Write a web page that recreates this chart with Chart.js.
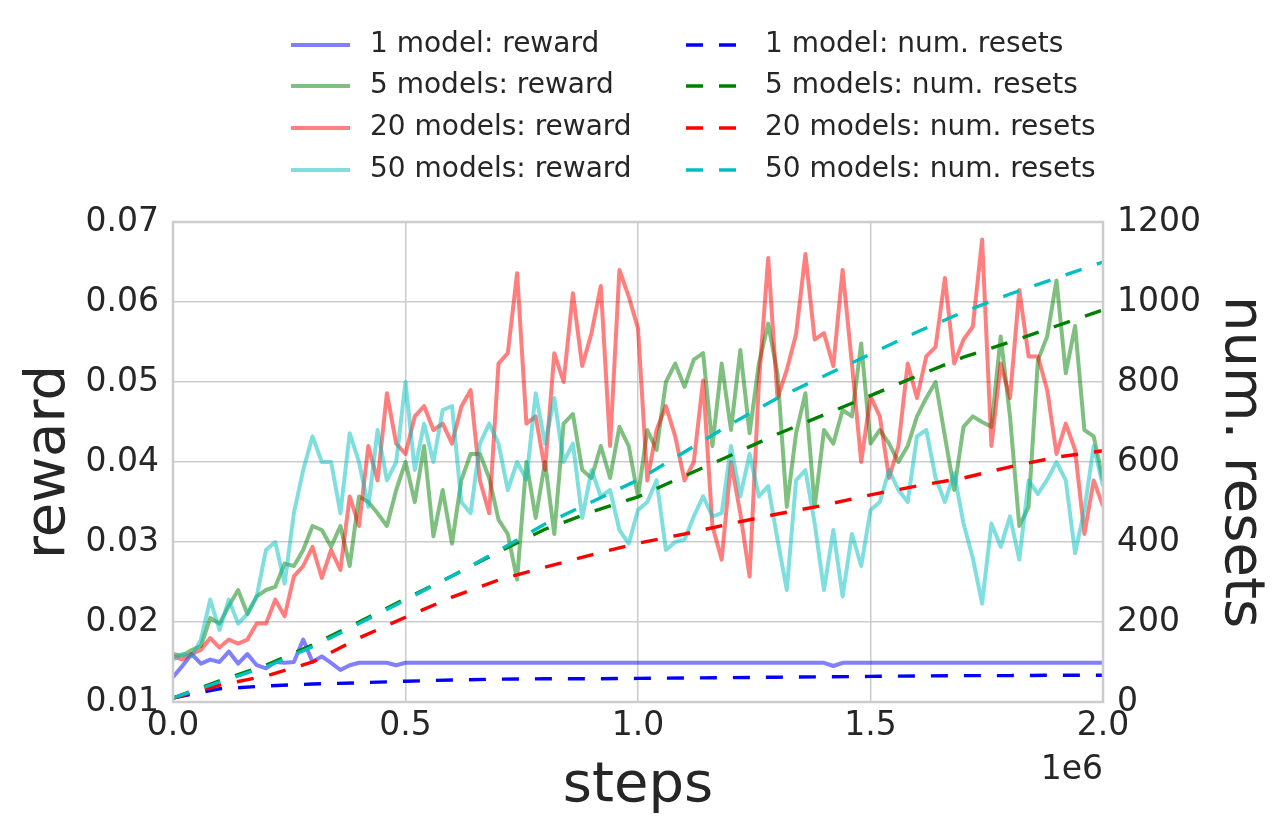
<!DOCTYPE html>
<html>
<head>
<meta charset="utf-8">
<script src="https://cdn.jsdelivr.net/npm/chart.js@4.4.1/dist/chart.umd.min.js"></script>
<style>
  html, body { margin: 0; padding: 0; background: #fff; }
  canvas { display: block; }
</style>
</head>
<body>
<canvas id="chart" width="1287" height="834"></canvas>
<script>
// training steps, in units of 1e6
const steps = [
  0.00, 0.02, 0.04, 0.06, 0.08, 0.10, 0.12, 0.14, 0.16, 0.18,
  0.20, 0.22, 0.24, 0.26, 0.28, 0.30, 0.32, 0.34, 0.36, 0.38,
  0.40, 0.42, 0.44, 0.46, 0.48, 0.50, 0.52, 0.54, 0.56, 0.58,
  0.60, 0.62, 0.64, 0.66, 0.68, 0.70, 0.72, 0.74, 0.76, 0.78,
  0.80, 0.82, 0.84, 0.86, 0.88, 0.90, 0.92, 0.94, 0.96, 0.98,
  1.00, 1.02, 1.04, 1.06, 1.08, 1.10, 1.12, 1.14, 1.16, 1.18,
  1.20, 1.22, 1.24, 1.26, 1.28, 1.30, 1.32, 1.34, 1.36, 1.38,
  1.40, 1.42, 1.44, 1.46, 1.48, 1.50, 1.52, 1.54, 1.56, 1.58,
  1.60, 1.62, 1.64, 1.66, 1.68, 1.70, 1.72, 1.74, 1.76, 1.78,
  1.80, 1.82, 1.84, 1.86, 1.88, 1.90, 1.92, 1.94, 1.96, 1.98,
  2.00
];

const reward1 = [
  0.0131, 0.0145, 0.0160, 0.0148, 0.0153, 0.0150, 0.0163, 0.0148, 0.0160, 0.0146,
  0.0142, 0.0150, 0.0149, 0.0150, 0.0178, 0.0150, 0.0157, 0.0149, 0.0140, 0.0146,
  0.0149, 0.0149, 0.0149, 0.0149, 0.0146, 0.0149, 0.0149, 0.0149, 0.0149, 0.0149,
  0.0149, 0.0149, 0.0149, 0.0149, 0.0149, 0.0149, 0.0149, 0.0149, 0.0149, 0.0149,
  0.0149, 0.0149, 0.0149, 0.0149, 0.0149, 0.0149, 0.0149, 0.0149, 0.0149, 0.0149,
  0.0149, 0.0149, 0.0149, 0.0149, 0.0149, 0.0149, 0.0149, 0.0149, 0.0149, 0.0149,
  0.0149, 0.0149, 0.0149, 0.0149, 0.0149, 0.0149, 0.0149, 0.0149, 0.0149, 0.0149,
  0.0149, 0.0145, 0.0149, 0.0149, 0.0149, 0.0149, 0.0149, 0.0149, 0.0149, 0.0149,
  0.0149, 0.0149, 0.0149, 0.0149, 0.0149, 0.0149, 0.0149, 0.0149, 0.0149, 0.0149,
  0.0149, 0.0149, 0.0149, 0.0149, 0.0149, 0.0149, 0.0149, 0.0149, 0.0149, 0.0149,
  0.0149
];

const reward5 = [
  0.0160, 0.0158, 0.0165, 0.0170, 0.0205, 0.0198, 0.0220, 0.0240, 0.0210, 0.0232,
  0.0240, 0.0244, 0.0273, 0.0270, 0.0290, 0.0320, 0.0315, 0.0294, 0.0320, 0.0270,
  0.0357, 0.0350, 0.0336, 0.0320, 0.0365, 0.0400, 0.0350, 0.0420, 0.0307, 0.0365,
  0.0298, 0.0377, 0.0410, 0.0410, 0.0380, 0.0328, 0.0310, 0.0253, 0.0400, 0.0330,
  0.0400, 0.0310, 0.0448, 0.0460, 0.0390, 0.0380, 0.0420, 0.0380, 0.0444, 0.0420,
  0.0357, 0.0440, 0.0415, 0.0500, 0.0523, 0.0494, 0.0528, 0.0536, 0.0420, 0.0523,
  0.0440, 0.0540, 0.0436, 0.0523, 0.0573, 0.0510, 0.0344, 0.0436, 0.0486, 0.0344,
  0.0440, 0.0423, 0.0465, 0.0457, 0.0548, 0.0423, 0.0440, 0.0423, 0.0400, 0.0420,
  0.0457, 0.0480, 0.0500, 0.0432, 0.0365, 0.0444, 0.0457, 0.0450, 0.0444, 0.0557,
  0.0457, 0.0320, 0.0344, 0.0527, 0.0557, 0.0627, 0.0511, 0.0570, 0.0440, 0.0432,
  0.0377
];

const reward20 = [
  0.0157, 0.0153, 0.0160, 0.0165, 0.0180, 0.0168, 0.0178, 0.0173, 0.0178, 0.0198,
  0.0198, 0.0228, 0.0207, 0.0257, 0.0270, 0.0294, 0.0255, 0.0290, 0.0265, 0.0357,
  0.0320, 0.0420, 0.0377, 0.0486, 0.0423, 0.0410, 0.0457, 0.0470, 0.0440, 0.0448,
  0.0423, 0.0469, 0.0490, 0.0377, 0.0336, 0.0523, 0.0536, 0.0636, 0.0448, 0.0457,
  0.0390, 0.0536, 0.0500, 0.0611, 0.0520, 0.0561, 0.0620, 0.0420, 0.0640, 0.0607,
  0.0567, 0.0377, 0.0440, 0.0470, 0.0432, 0.0377, 0.0400, 0.0502, 0.0320, 0.0278,
  0.0400, 0.0336, 0.0257, 0.0500, 0.0655, 0.0480, 0.0515, 0.0560, 0.0660, 0.0553,
  0.0561, 0.0520, 0.0640, 0.0523, 0.0400, 0.0482, 0.0457, 0.0380, 0.0420, 0.0523,
  0.0480, 0.0532, 0.0544, 0.0630, 0.0523, 0.0553, 0.0569, 0.0678, 0.0420, 0.0523,
  0.0480, 0.0615, 0.0532, 0.0532, 0.0490, 0.0410, 0.0448, 0.0415, 0.0310, 0.0377,
  0.0345
];

const reward50 = [
  0.0153, 0.0160, 0.0157, 0.0178, 0.0228, 0.0190, 0.0228, 0.0198, 0.0210, 0.0232,
  0.0290, 0.0300, 0.0248, 0.0336, 0.0390, 0.0432, 0.0400, 0.0400, 0.0336, 0.0436,
  0.0400, 0.0344, 0.0440, 0.0377, 0.0400, 0.0500, 0.0390, 0.0448, 0.0400, 0.0465,
  0.0470, 0.0350, 0.0336, 0.0423, 0.0448, 0.0423, 0.0365, 0.0400, 0.0378, 0.0486,
  0.0423, 0.0480, 0.0400, 0.0423, 0.0330, 0.0390, 0.0357, 0.0365, 0.0315, 0.0298,
  0.0340, 0.0350, 0.0377, 0.0290, 0.0300, 0.0303, 0.0332, 0.0357, 0.0332, 0.0336,
  0.0420, 0.0357, 0.0410, 0.0357, 0.0370, 0.0303, 0.0240, 0.0377, 0.0390, 0.0323,
  0.0240, 0.0315, 0.0232, 0.0310, 0.0270, 0.0340, 0.0350, 0.0390, 0.0365, 0.0350,
  0.0432, 0.0440, 0.0380, 0.0350, 0.0386, 0.0323, 0.0280, 0.0223, 0.0323, 0.0294,
  0.0332, 0.0278, 0.0377, 0.0360, 0.0378, 0.0400, 0.0377, 0.0286, 0.0340, 0.0420,
  0.0370
];

// number of resets, read every 0.1e6 steps
const resetSteps = [0.0, 0.1, 0.2, 0.3, 0.4, 0.5, 0.6, 0.7, 0.8, 0.9, 1.0,
                    1.1, 1.2, 1.3, 1.4, 1.5, 1.6, 1.7, 1.8, 1.9, 2.0];
const resets1  = [10, 33, 40, 45, 48, 52, 55, 57, 58, 58, 59, 60, 61, 62, 63, 64, 65, 66, 66, 67, 67];
const resets5  = [10, 53, 92, 143, 200, 258, 315, 375, 432, 475, 513, 565, 617, 670, 718, 766, 815, 862, 900, 940, 980];
const resets20 = [10, 42, 65, 100, 160, 212, 262, 305, 337, 368, 397, 420, 446, 470, 492, 518, 540, 560, 588, 612, 628];
const resets50 = [10, 50, 88, 138, 196, 255, 315, 378, 445, 500, 555, 625, 695, 760, 815, 870, 925, 975, 1020, 1060, 1100];

const rewardTicks = [0.01, 0.02, 0.03, 0.04, 0.05, 0.06, 0.07];
const resetTicks = [0, 200, 400, 600, 800, 1000, 1200];

const textColor = '#262626';
const gridColor = '#cccccc';
const fontFamily = '"DejaVu Sans", sans-serif';

function points(xs, ys) {
    return ys.map((y, i) => ({ x: xs[i], y: y }));
}

function rewardLine(label, color, values, order) {
    return {
        label: label,
        data: points(steps, values),
        yAxisID: 'y',
        borderColor: color,
        backgroundColor: color,
        borderWidth: 4,
        borderJoinStyle: 'round',
        pointRadius: 0,
        tension: 0,
        order: order
    };
}

function resetLine(label, color, values, order) {
    return {
        label: label,
        data: points(resetSteps, values),
        yAxisID: 'y1',
        borderColor: color,
        backgroundColor: color,
        borderWidth: 3.4,
        borderDash: [17, 16],
        pointRadius: 0,
        tension: 0,
        order: order
    };
}

const datasets = [
    rewardLine('1 model: reward', 'rgba(0,0,255,0.5)', reward1, 7),
    rewardLine('5 models: reward', 'rgba(0,128,0,0.5)', reward5, 6),
    rewardLine('20 models: reward', 'rgba(255,0,0,0.5)', reward20, 5),
    rewardLine('50 models: reward', 'rgba(0,191,191,0.5)', reward50, 4),
    resetLine('1 model: num. resets', 'rgb(0,0,255)', resets1, 3),
    resetLine('5 models: num. resets', 'rgb(0,128,0)', resets5, 2),
    resetLine('20 models: num. resets', 'rgb(255,0,0)', resets20, 1),
    resetLine('50 models: num. resets', 'rgb(0,191,191)', resets50, 0)
];

// two column legend above the plot, frame and offset text
const extras = {
    id: 'extras',
    afterDatasetsDraw(chart) {
        const {ctx, chartArea: a} = chart;
        ctx.save();
        ctx.strokeStyle = gridColor;
        ctx.lineWidth = 2.5;
        ctx.strokeRect(a.left, a.top, a.right - a.left, a.bottom - a.top);
        ctx.restore();
    },
    afterDraw(chart) {
        const ctx = chart.ctx;
        const colX = [291, 686];
        const rowY = [45, 86, 128, 170];
        ctx.save();
        ctx.font = '28px ' + fontFamily;
        ctx.textBaseline = 'middle';
        chart.data.datasets.forEach((ds, i) => {
            const x = colX[Math.floor(i / 4)];
            const y = rowY[i % 4];
            ctx.strokeStyle = ds.borderColor;
            ctx.lineWidth = ds.borderWidth;
            ctx.setLineDash(ds.borderDash || []);
            ctx.beginPath();
            ctx.moveTo(x, y);
            ctx.lineTo(x + 59, y);
            ctx.stroke();
            ctx.fillStyle = textColor;
            ctx.fillText(ds.label, x + 79, y);
        });
        ctx.setLineDash([]);
        ctx.font = '33px ' + fontFamily;
        ctx.textAlign = 'right';
        ctx.fillText('1e6', chart.chartArea.right, 770);
        ctx.restore();
    }
};

const config = {
    type: 'line',
    data: { datasets: datasets },
    options: {
        responsive: false,
        animation: false,
        devicePixelRatio: 1,
        layout: { padding: { top: 222, left: 0, right: 0, bottom: 0 } },
        plugins: {
            legend: { display: false },
            tooltip: { enabled: false }
        },
        scales: {
            x: {
                type: 'linear',
                min: 0,
                max: 2,
                afterFit: (s) => { s.height = 132; },
                afterBuildTicks: (s) => { s.ticks = [0, 0.5, 1, 1.5, 2].map(v => ({ value: v })); },
                ticks: {
                    padding: 5,
                    color: textColor,
                    font: { family: fontFamily, size: 33, lineHeight: 1.2 },
                    maxRotation: 0,
                    callback: (v) => v.toFixed(1)
                },
                grid: { color: gridColor, lineWidth: 1.5, drawTicks: false },
                border: { display: false },
                title: {
                    display: true,
                    text: 'steps',
                    color: textColor,
                    font: { family: fontFamily, size: 56, lineHeight: 1 },
                    padding: { top: 0, bottom: 20 }
                }
            },
            y: {
                position: 'left',
                min: 0.01,
                max: 0.07,
                afterFit: (s) => { s.width = 173; },
                afterBuildTicks: (s) => { s.ticks = rewardTicks.map(v => ({ value: v })); },
                ticks: {
                    padding: 14,
                    color: textColor,
                    font: { family: fontFamily, size: 33 },
                    callback: (v) => v.toFixed(2)
                },
                grid: { color: gridColor, lineWidth: 1.5, drawTicks: false },
                border: { display: false },
                title: {
                    display: true,
                    text: 'reward',
                    color: textColor,
                    font: { family: fontFamily, size: 56, lineHeight: 1 },
                    padding: { top: 21, bottom: 0 }
                }
            },
            y1: {
                position: 'right',
                min: 0,
                max: 1200,
                afterFit: (s) => { s.width = 184; },
                afterBuildTicks: (s) => { s.ticks = resetTicks.map(v => ({ value: v })); },
                ticks: {
                    padding: 14,
                    color: textColor,
                    font: { family: fontFamily, size: 33 },
                    callback: (v) => String(v)
                },
                grid: { display: false, drawTicks: false },
                border: { display: false },
                title: {
                    display: true,
                    text: 'num. resets',
                    color: textColor,
                    font: { family: fontFamily, size: 56, lineHeight: 1 },
                    padding: { top: 18, bottom: 0 }
                }
            }
        }
    },
    plugins: [extras]
};

const chart = new Chart(document.getElementById('chart'), config);
</script>
</body>
</html>
